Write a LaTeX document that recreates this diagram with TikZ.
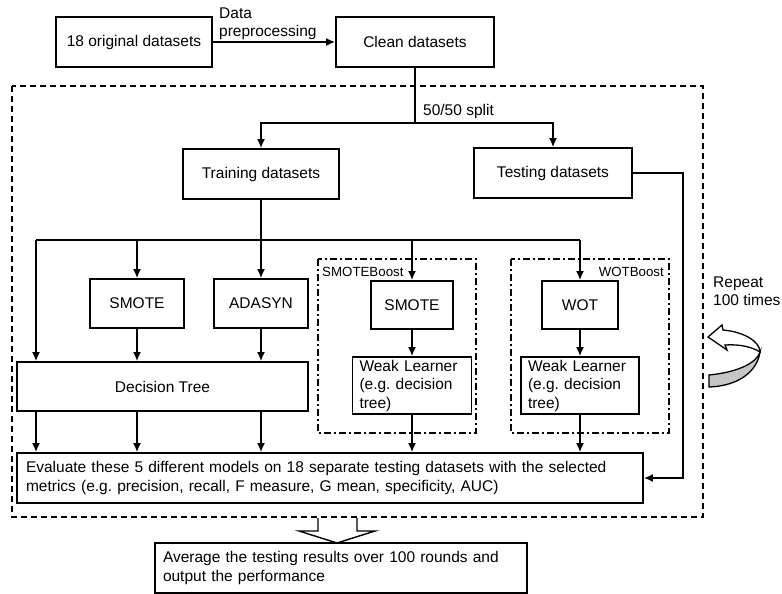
\documentclass[tikz,border=0pt]{standalone}
\usepackage{fontspec}
\setmainfont{Liberation Sans}
\usetikzlibrary{positioning,calc,arrows.meta}

\tikzset{
  box/.style={draw, line width=1.6pt, inner sep=0pt, minimum height=50, font=\fontsize{15.5}{18.5}\selectfont},
  weak/.style={box, minimum height=57, text width=105, inner xsep=7, align=left},
  arr/.style={-{Latex[length=9pt,width=8pt]}, line width=1.8pt},
  ln/.style={line width=1.8pt},
  label/.style={inner sep=0pt, font=\fontsize{15.5}{18.5}\selectfont},
  small/.style={inner sep=0pt, font=\fontsize{13.3}{15}\selectfont},
  group/.style={line width=1.3pt, dash pattern=on 7pt off 3pt on 2pt off 3pt},
  outer/.style={line width=1.4pt, dash pattern=on 6pt off 4pt}
}

\begin{document}
\frenchspacing
\begin{tikzpicture}[x=1pt,y=-1pt]
    \useasboundingbox (0,0) rectangle (782,594);

    % Preprocessing
    \node[box, minimum width=156] (orig) at (134,42) {18 original datasets};
    \node[box, minimum width=158] (clean) at (415,42) {Clean datasets};
    \draw[arr] (orig) -- (clean);
    \node[label, anchor=south west, align=left] (prep) at (219,40) {Data\\preprocessing};

    % Repeated part
    \draw[outer] (12,86) rectangle (703,517);
    \node[box, minimum width=156] (train) at (261,174) {Training datasets};
    \node[box, minimum width=158] (test) at (553,173) {Testing datasets};
    \coordinate (split) at (415,123);
    \draw[ln] (clean.south) -- (split);
    \draw[arr] (split) -| (train.north);
    \draw[arr] (split) -| (test.north);
    \node[label, anchor=west] (splitlbl) at (423,111) {50/50 split};

    % Models
    \node[box, minimum width=94, minimum height=49] (smoteA) at (137,303.5) {SMOTE};
    \node[box, minimum width=94, minimum height=49] (adasyn) at (261,303.5) {ADASYN};
    \node[box, minimum width=291, minimum height=49] (dtree) at (162.5,386.5) {Decision Tree};

    \draw[group] (318,259) rectangle (476,433);
    \node[small, anchor=west] (sbLabel) at (322,272) {SMOTEBoost};
    \node[box, minimum width=82, minimum height=48] (smoteB) at (412,305) {SMOTE};
    \node[weak] (weakA) at (412,385.5) {Weak Learner\\(e.g. decision\\tree)};

    \draw[group] (511,259) rectangle (669,433);
    \node[small, anchor=east] (wbLabel) at (664,272) {WOTBoost};
    \node[box, minimum width=76, minimum height=48] (wot) at (580,305) {WOT};
    \node[weak, text width=104] (weakB) at (580,385.5) {Weak Learner\\(e.g. decision\\tree)};

    \coordinate (bL) at (36,240);
    \coordinate (bR) at (580,240);
    \draw[ln] (bL) -- (bR);
    \draw[arr] (train.south) -- (adasyn.north);
    \draw[arr] (bL) -- (bL |- dtree.north);
    \draw[arr] (smoteA.north |- bL) -- (smoteA.north);
    \draw[arr] (smoteB.north |- bL) -- (smoteB.north);
    \draw[arr] (bR) -- (wot.north);
    \foreach \m in {smoteA, adasyn}
        \draw[arr] (\m.south) -- (\m.south |- dtree.north);
    \foreach \a/\b in {smoteB/weakA, wot/weakB}
        \draw[arr] (\a.south) -- (\b.north);

    % Evaluation
    \node[box, text width=608, inner xsep=9, align=left] (eval) at (330,478)
        {Evaluate these 5 different models on 18 separate testing datasets with the selected\\metrics (e.g. precision, recall, F measure, G mean, specificity, AUC)};
    \foreach \m in {bL, smoteA, adasyn}
        \draw[arr] (\m |- dtree.south) -- (\m |- eval.north);
    \foreach \m in {weakA, weakB}
        \draw[arr] (\m.south) -- (\m.south |- eval.north);
    \coordinate (testTurn) at (683,173);
    \draw[arr] (test.east) -- (testTurn) |- (eval.east);

    % Repeat arrow
    \node[label, anchor=west, align=left] (repeat) at (713,291) {Repeat\\100 times};
    \draw[line width=1.3pt, fill=gray!45] (709,375) .. controls (740,372) and (757,362) .. (760,352)
        .. controls (757,372) and (738,386) .. (709,387) -- cycle;
    \draw[line width=1.3pt, fill=white] (708,337) -- (722,325) -- (723,330)
        .. controls (745,332) and (760,342) .. (760,352)
        .. controls (752,347) and (740,344) .. (725,345) -- (727,350) -- cycle;

    % Result
    \draw[line width=1.4pt] (318,518) -- (318,531) -- (299,531) -- (337,543) -- (375,531) -- (357,531) -- (357,518);
    \node[box, text width=356, inner xsep=8, align=left] (avg) at (341,568)
        {Average the testing results over 100 rounds and\\output the performance};
\end{tikzpicture}
\end{document}
